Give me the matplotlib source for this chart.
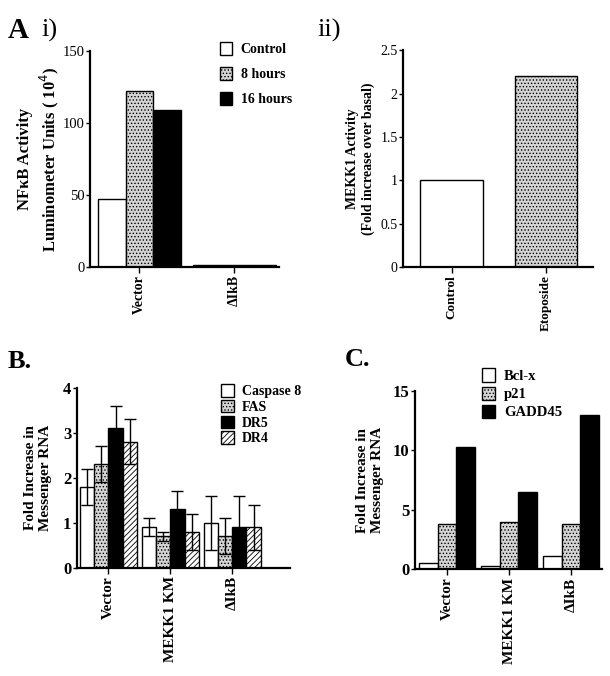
import numpy as np
import matplotlib
matplotlib.use('Agg')
import matplotlib.pyplot as plt

plt.rcParams['font.family'] = ['Liberation Serif', 'DejaVu Serif']
plt.rcParams['hatch.linewidth'] = 0.6

# panel A i
a1_groups = ['Vector', 'ΔIkB']
a1_series = ['Control', '8 hours', '16 hours']
a1_values = [[47, 1.2], [122, 1.2], [109, 1.2]]

# panel A ii
a2_groups = ['Control', 'Etoposide']
a2_values = [1.0, 2.2]

# panel B
b_groups = ['Vector', 'MEKK1 KM', 'ΔIkB']
b_series = ['Caspase 8', 'FAS', 'DR5', 'DR4']
b_values = [[1.8, 0.9, 1.0], [2.3, 0.7, 0.7], [3.1, 1.3, 0.9], [2.8, 0.8, 0.9]]
b_errors = [[0.4, 0.2, 0.6], [0.4, 0.1, 0.4], [0.5, 0.4, 0.7], [0.5, 0.4, 0.5]]

# panel C
c_groups = ['Vector', 'MEKK1 KM', 'ΔIkB']
c_series = ['Bcl-x', 'p21', 'GADD45']
c_values = [[0.5, 0.3, 1.1], [3.8, 4.0, 3.8], [10.3, 6.5, 13.0]]

STIP = '#d4d4d4'
styles = [dict(facecolor='white', hatch=None),
          dict(facecolor=STIP, hatch='.....'),
          dict(facecolor='black', hatch=None),
          dict(facecolor='white', hatch='//////')]

fig = plt.figure(figsize=(6.1, 6.76), dpi=100)


def style_axes(ax, ylim, yticks, yticklabels, tick_fs, tick_bold):
    ax.spines['top'].set_visible(False)
    ax.spines['right'].set_visible(False)
    ax.spines['left'].set_linewidth(1.6)
    ax.spines['bottom'].set_linewidth(1.6)
    ax.set_ylim(*ylim)
    ax.set_yticks(yticks)
    ax.set_yticklabels(yticklabels, fontsize=tick_fs,
                       fontweight='bold' if tick_bold else 'normal')
    ax.tick_params(axis='y', length=3, width=1, pad=1)
    ax.tick_params(axis='x', length=4, width=1, pad=2)


def grouped(ax, groups, values, width, errors=None, xfs=10):
    x = np.arange(len(groups))
    n = len(values)
    handles = []
    for i, vals in enumerate(values):
        off = (i - (n - 1) / 2) * width
        st = styles[i]
        b = ax.bar(x + off, vals, width, facecolor=st['facecolor'], hatch=st['hatch'],
                   edgecolor='black', linewidth=1.0)
        handles.append(b)
        if errors is not None:
            ax.errorbar(x + off, vals, yerr=errors[i], fmt='none', ecolor='black',
                        elinewidth=1.0, capsize=4, capthick=1.0)
    ax.set_xticks(x)
    ax.set_xticklabels(groups, rotation=90, fontsize=xfs, fontweight='bold')
    return handles


# A i
ax1 = fig.add_axes([0.1475, 0.605, 0.31, 0.3195])
h = grouped(ax1, a1_groups, a1_values, 0.29)
ax1.set_xlim(-0.52, 1.47)
style_axes(ax1, (0, 150), [0, 50, 100, 150], ['0', '50', '100', '150'], 10.5, False)
ax1.set_ylabel('NFκB Activity\nLuminometer Units ( 10$^4$)', fontsize=12,
               fontweight='bold', labelpad=1, linespacing=1.25)
ax1.legend(h, a1_series, loc='upper left', bbox_to_anchor=(0.62, 1.1), frameon=False,
           prop={'weight': 'bold', 'size': 10}, handlelength=0.9, handleheight=1.1,
           handletextpad=0.6, labelspacing=0.75)

# A ii
ax2 = fig.add_axes([0.661, 0.605, 0.311, 0.3205])
x2 = np.arange(len(a2_groups))
ax2.bar(x2, a2_values, 0.667, facecolor=['white', STIP], hatch=[None, '.....'],
        edgecolor='black', linewidth=1.0)
ax2.set_xticks(x2)
ax2.set_xticklabels(a2_groups, rotation=90, fontsize=9.5, fontweight='bold')
ax2.set_xlim(-0.513, 1.497)
style_axes(ax2, (0, 2.5), [0, 0.5, 1, 1.5, 2, 2.5],
           ['0', '0.5', '1', '1.5', '2', '2.5'], 10, False)
ax2.set_ylabel('MEKK1 Activity\n(Fold increase over basal)', fontsize=10,
               fontweight='bold', labelpad=4, linespacing=1.2)

# B
ax3 = fig.add_axes([0.126, 0.160, 0.349, 0.266])
h = grouped(ax3, b_groups, b_values, 0.23, b_errors, xfs=11)
ax3.set_xlim(-0.51, 2.93)
style_axes(ax3, (0, 4), [0, 1, 2, 3, 4], ['0', '1', '2', '3', '4'], 12, True)
ax3.set_ylabel('Fold Increase in\nMessenger RNA', fontsize=11, fontweight='bold', labelpad=8)
ax3.legend(h, b_series, loc='upper left', bbox_to_anchor=(0.62, 1.09), frameon=False,
           prop={'weight': 'bold', 'size': 10}, handlelength=0.9, handleheight=1.0,
           handletextpad=0.6, labelspacing=0.12)

# C
ax4 = fig.add_axes([0.680, 0.158, 0.307, 0.2636])
h = grouped(ax4, c_groups, c_values, 0.3, xfs=11)
ax4.set_xlim(-0.52, 2.5)
style_axes(ax4, (0, 15), [0, 5, 10, 15], ['0', '5', '10', '15'], 12, True)
ax4.set_ylabel('Fold Increase in\nMessenger RNA', fontsize=11, fontweight='bold', labelpad=6)
ax4.legend(h, c_series, loc='upper left', bbox_to_anchor=(0.29, 1.2), frameon=False,
           prop={'weight': 'bold', 'size': 10.5}, handlelength=0.9, handleheight=1.0,
           handletextpad=0.6, labelspacing=0.25)

# panel labels
fig.text(0.012, 0.955, 'A', fontsize=21, fontweight='bold', va='center')
fig.text(0.068, 0.955, 'i)', fontsize=19, va='center')
fig.text(0.52, 0.955, 'ii)', fontsize=19, va='center')
fig.text(0.012, 0.465, 'B.', fontsize=19, fontweight='bold', va='center')
fig.text(0.565, 0.468, 'C.', fontsize=19, fontweight='bold', va='center')

fig.savefig('out.png', dpi=100)
